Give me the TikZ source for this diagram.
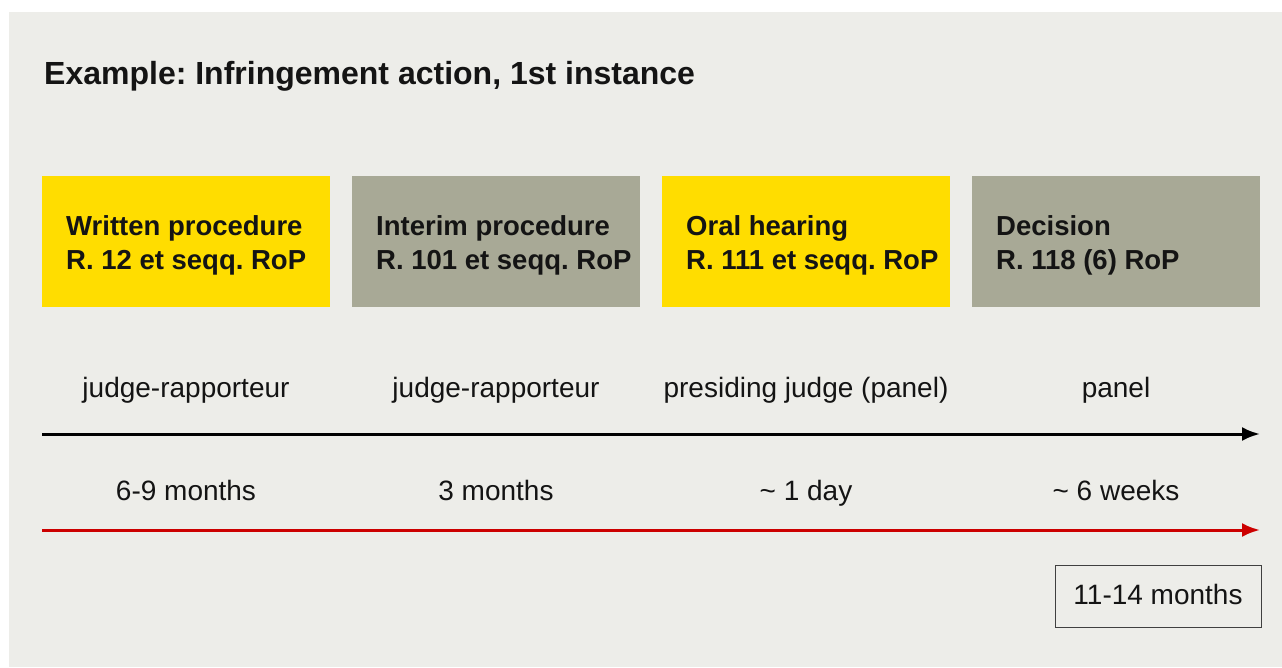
\documentclass[tikz,border=0pt]{standalone}
\usepackage{fontspec}
\setmainfont{Liberation Sans}
\frenchspacing
\usetikzlibrary{arrows.meta}
\definecolor{bgc}{HTML}{EDEDE9}
\definecolor{yel}{HTML}{FFDD00}
\definecolor{gry}{HTML}{A8A996}
\definecolor{redc}{HTML}{CC0000}
\definecolor{ink}{HTML}{141414}
\tikzset{
  px/.style={x=1pt,y=-1pt},
  stage/.style={minimum width=288pt,minimum height=131pt,inner sep=0pt,outer sep=0pt,anchor=north west},
  stagetext/.style={anchor=base west,align=left,font=\fontsize{27.5}{35}\selectfont\bfseries,inner sep=0pt,text=ink},
  lbl/.style={anchor=base,font=\fontsize{28}{32}\selectfont,inner sep=0pt,text=ink},
  timeline/.style={line width=3pt,-{Latex[length=18pt,width=14pt]}},
}
\begin{document}
\begin{tikzpicture}[px]
\useasboundingbox (0,0) rectangle (1282,668);
\fill[white] (0,0) rectangle (1282,668);
\fill[bgc] (9,12) rectangle (1282,667);
\node[anchor=base west,inner sep=0pt,text=ink,font=\fontsize{32}{38}\selectfont\bfseries] (title) at (44,85) {Example: Infringement action, 1st instance};
% stages
\node[stage,fill=yel] (s1) at (42,176) {};
\node[stage,fill=gry] (s2) at (352,176) {};
\node[stage,fill=yel] (s3) at (662,176) {};
\node[stage,fill=gry] (s4) at (972,176) {};
\node[stagetext] (t1) at (66,270) {Written procedure\\R. 12 et seqq. RoP};
\node[stagetext] (t2) at (376,270) {Interim procedure\\R. 101 et seqq. RoP};
\node[stagetext] (t3) at (686,270) {Oral hearing\\R. 111 et seqq. RoP};
\node[stagetext] (t4) at (996,270) {Decision\\R. 118 (6) RoP};
% roles
\node[lbl] (r1) at (186,397) {judge-rapporteur};
\node[lbl] (r2) at (496,397) {judge-rapporteur};
\node[lbl] (r3) at (806,397) {presiding judge (panel)};
\node[lbl] (r4) at (1116,397) {panel};
% arrows
\coordinate (a0) at (42,434);
\coordinate (a1) at (1260,434);
\draw[timeline,black] (a0) -- (a1);
% durations
\node[lbl] (d1) at (186,500) {6-9 months};
\node[lbl] (d2) at (496,500) {3 months};
\node[lbl] (d3) at (806,500) {\char"007E\ 1 day};
\node[lbl] (d4) at (1116,500) {\char"007E\ 6 weeks};
\coordinate (b0) at (42,530);
\coordinate (b1) at (1260,530);
\draw[timeline,redc] (b0) -- (b1);
% total
\node[draw=black!75,line width=1.3pt,minimum width=206pt,minimum height=62pt,inner sep=0pt,anchor=north west] (tot) at (1055,565) {};
\node[lbl] (tott) at (1158,604) {11-14 months};
\end{tikzpicture}
\end{document}
